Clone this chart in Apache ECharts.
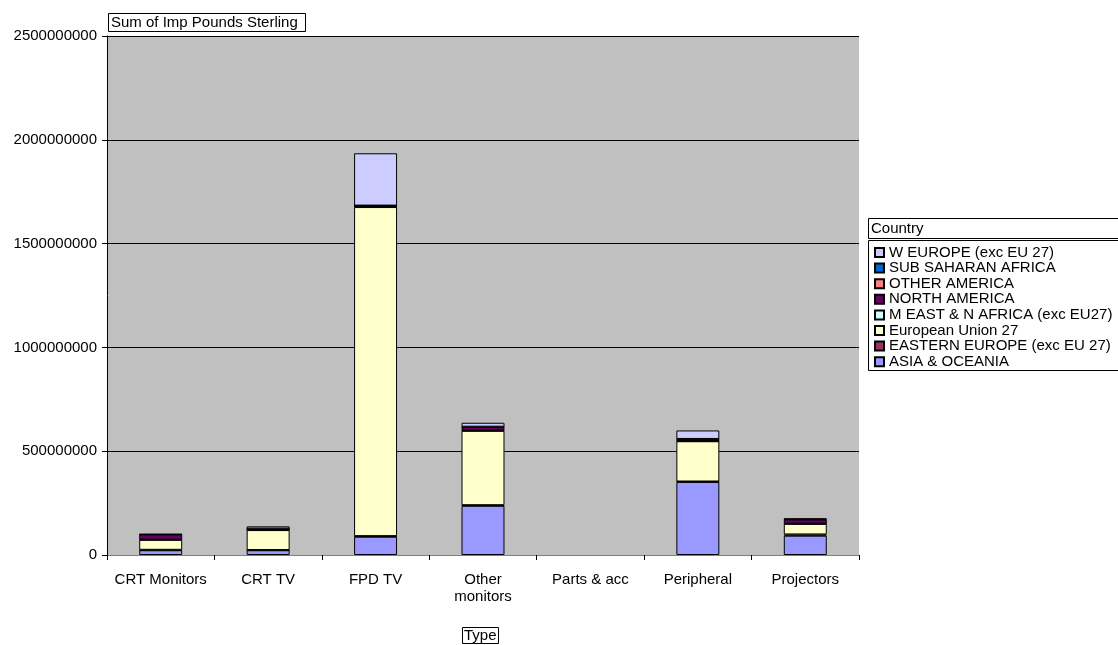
<!DOCTYPE html>
<html>
<head>
<meta charset="utf-8">
<script src="https://cdn.jsdelivr.net/npm/echarts@6/dist/echarts.min.js"></script>
<style>
  html, body { margin: 0; padding: 0; background: #ffffff; }
  #chart { width: 1118px; height: 645px; }
</style>
</head>
<body>
<div id="chart"></div>
<script>
// Product types on the category axis
const categories = ['CRT Monitors', 'CRT TV', 'FPD TV', 'Other\nmonitors', 'Parts & acc', 'Peripheral', 'Projectors'];

// Imports (pounds sterling) by region, one value per type
const asiaOceania   = [23e6, 23e6, 88e6, 237e6, 0, 352e6, 93e6];
const easternEurope = [2e6, 1e6, 3e6, 3e6, 0, 2e6, 6e6];
const europeanUnion = [48e6, 96e6, 1585e6, 358e6, 0, 194e6, 51e6];
const mEastNAfrica  = [1e6, 1e6, 2e6, 2e6, 0, 1e6, 1e6];
const northAmerica  = [24e6, 4e6, 3e6, 17e6, 0, 9e6, 20e6];
const otherAmerica  = [1e6, 1e6, 1e6, 1e6, 0, 1e6, 1e6];
const subSaharan    = [0, 1e6, 1e6, 0, 0, 0, 0];
const wEurope       = [2e6, 11e6, 252e6, 19e6, 0, 41e6, 4e6];

const yTicks = [0, 500000000, 1000000000, 1500000000, 2000000000, 2500000000];

const regions = [
  { name: 'ASIA & OCEANIA', data: asiaOceania, color: '#9999FF' },
  { name: 'EASTERN EUROPE (exc EU 27)', data: easternEurope, color: '#993366' },
  { name: 'European Union 27', data: europeanUnion, color: '#FFFFCC' },
  { name: 'M EAST & N AFRICA (exc EU27)', data: mEastNAfrica, color: '#CCFFFF' },
  { name: 'NORTH AMERICA', data: northAmerica, color: '#660066' },
  { name: 'OTHER AMERICA', data: otherAmerica, color: '#FF8080' },
  { name: 'SUB SAHARAN AFRICA', data: subSaharan, color: '#0066CC' },
  { name: 'W EUROPE (exc EU 27)', data: wEurope, color: '#CCCCFF' }
];

const FONT = 'Liberation Sans, Arial, sans-serif';
const chart = echarts.init(document.getElementById('chart'), null, { renderer: 'canvas' });

const series = regions.map(r => ({
  name: r.name,
  type: 'bar',
  stack: 'total',
  barWidth: '40%',
  data: r.data.map(v => (v === 0 ? '-' : v)),
  itemStyle: { color: r.color, borderColor: '#000000', borderWidth: 1 },
  emphasis: { disabled: true },
  animation: false
}));

chart.setOption({
  animation: false,
  backgroundColor: '#ffffff',
  textStyle: { fontFamily: FONT },
  title: [
    {
      text: 'Sum of Imp Pounds Sterling',
      left: 108, top: 13,
      padding: [2, 8, 2, 3],
      borderColor: '#000000', borderWidth: 1,
      textStyle: { fontFamily: FONT, fontSize: 15, fontWeight: 'normal', color: '#000000' }
    },
    {
      text: 'Type',
      left: 462, top: 627,
      padding: [1, 2, 1, 2],
      borderColor: '#000000', borderWidth: 1,
      textStyle: { fontFamily: FONT, fontSize: 15, fontWeight: 'normal', color: '#000000' }
    },
    {
      text: 'Country',
      left: 868, top: 218,
      padding: [3, 200, 3, 3],
      borderColor: '#000000', borderWidth: 1,
      textStyle: { fontFamily: FONT, fontSize: 15, fontWeight: 'normal', color: '#000000' }
    }
  ],
  graphic: [
    {
      type: 'rect',
      shape: { x: 868.5, y: 240.5, width: 300, height: 130 },
      style: { fill: '#ffffff', stroke: '#000000', lineWidth: 1 },
      z: -1
    }
  ],
  legend: {
    orient: 'vertical',
    left: 874, top: 245,
    itemWidth: 9, itemHeight: 9,
    itemGap: 0.6,
    icon: 'rect',
    padding: 0,
    selectedMode: false,
    data: regions.slice().reverse().map(r => r.name),
    textStyle: { fontFamily: FONT, fontSize: 15, color: '#000000' }
  },
  grid: {
    left: 107, top: 36, width: 752, height: 519,
    show: true, backgroundColor: '#C0C0C0', borderWidth: 0
  },
  xAxis: {
    type: 'category',
    data: categories,
    axisLine: { show: true, lineStyle: { color: '#808080', width: 1 } },
    axisTick: { show: true, alignWithLabel: false, length: 5, lineStyle: { color: '#000000' } },
    axisLabel: { color: '#000000', fontFamily: FONT, fontSize: 15, margin: 16, interval: 0, lineHeight: 17 },
    splitLine: { show: false }
  },
  yAxis: {
    type: 'value',
    min: yTicks[0], max: yTicks[yTicks.length - 1], interval: yTicks[1] - yTicks[0],
    axisLine: { show: true, lineStyle: { color: '#000000', width: 1 } },
    axisTick: { show: true, length: 5, lineStyle: { color: '#000000' } },
    axisLabel: { color: '#000000', fontFamily: FONT, fontSize: 15, margin: 10, formatter: v => String(v) },
    splitLine: { show: true, lineStyle: { color: '#000000', width: 1 } }
  },
  series: series
});
</script>
</body>
</html>
